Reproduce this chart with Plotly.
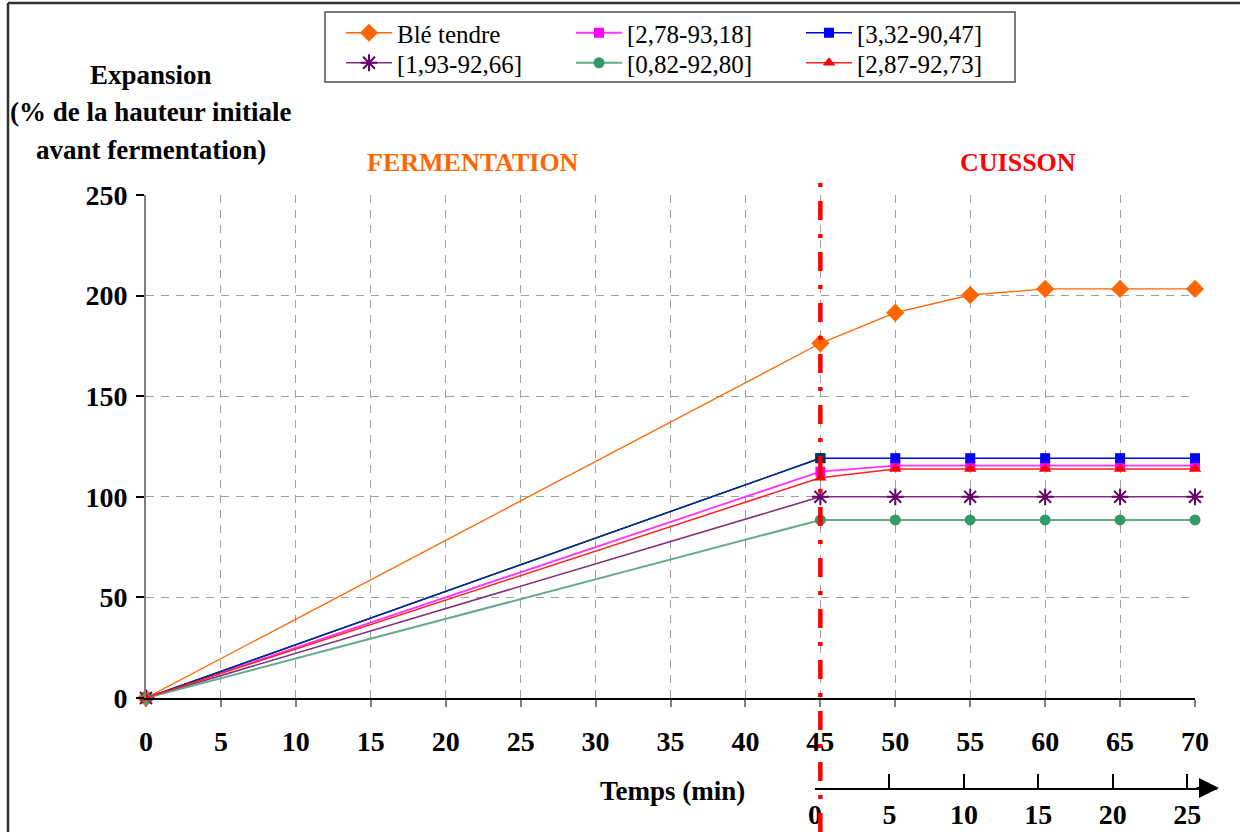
import plotly.graph_objects as go

# ---- data -------------------------------------------------------------
temps = [0, 45, 50, 55, 60, 65, 70]          # minutes since start
ble_tendre = [0, 176.3, 191.5, 200.3, 203.3, 203.3, 203.3]
s_278_9318 = [0, 112.5, 115.5, 115.5, 115.5, 115.5, 115.5]
s_332_9047 = [0, 119.2, 119.2, 119.2, 119.2, 119.2, 119.2]
s_193_9266 = [0, 100.0, 100.0, 100.0, 100.0, 100.0, 100.0]
s_082_9280 = [0, 88.5, 88.5, 88.5, 88.5, 88.5, 88.5]
s_287_9273 = [0, 109.5, 113.8, 113.8, 113.8, 113.8, 113.8]

x_ticks = [0, 5, 10, 15, 20, 25, 30, 35, 40, 45, 50, 55, 60, 65, 70]
y_ticks = [0, 50, 100, 150, 200, 250]
cuisson_ticks = [0, 5, 10, 15, 20, 25]       # baking time scale
fin_fermentation = 45

# ---- page geometry ------------------------------------------------------
W, H = 1240, 832
ML, MR, MT, MB = 146, 15, 195, 44
PW, PH = W - ML - MR, H - MT - MB


def fx(p):
    return (p - ML) / PW


def fy(p):
    return (H - MB - p) / PH


SERIF = "Liberation Serif"

fig = go.Figure()


def add_series(name, y, color, line_color, line_width, symbol, size,
               legend, marker_line=None):
    marker = dict(symbol=symbol, size=size, color=color)
    if marker_line:
        marker["line"] = marker_line
    else:
        marker["line"] = dict(width=0)
    fig.add_trace(go.Scatter(
        x=temps, y=y, name=name, mode="lines+markers",
        line=dict(color=line_color, width=line_width),
        marker=marker, cliponaxis=False, legend=legend,
    ))


add_series("Blé tendre", ble_tendre, "#FF6600", "#FF6600", 1.3, "diamond", 14, "legend")
add_series("[2,78-93,18]", s_278_9318, "#FF00FF", "#FF33FF", 1.8, "square", 10, "legend")
add_series("[3,32-90,47]", s_332_9047, "#0000FF", "#0000DD", 1.5, "square", 10, "legend")

# fermentation segment of the [3,32-90,47] series is drawn in navy
fig.add_trace(go.Scatter(
    x=temps[:2], y=s_332_9047[:2], mode="lines+markers", showlegend=False,
    line=dict(color="#003366", width=1.3),
    marker=dict(symbol="square", size=10, color="#003366", line=dict(width=0)),
    cliponaxis=False, hoverinfo="skip",
))

add_series("[1,93-92,66]", s_193_9266, "#660066", "#7F2F7F", 1.6, "asterisk-open", 14,
           "legend2", marker_line=dict(color="#660066", width=2))
add_series("[0,82-92,80]", s_082_9280, "#339966", "#66AA88", 2, "circle", 11, "legend2")
add_series("[2,87-92,73]", s_287_9273, "#FF0000", "#FF2020", 1.5, "triangle-up", 11, "legend2")

# invisible trace that carries the secondary (baking time) axis
fig.add_trace(go.Scatter(
    x=cuisson_ticks, y=[0] * len(cuisson_ticks), xaxis="x2", yaxis="y2",
    mode="markers", marker=dict(opacity=0), showlegend=False, hoverinfo="skip",
))

tick_font = dict(family=SERIF, size=28, color="black", weight="bold")
legend_font = dict(family=SERIF, size=25, color="black")

fig.update_layout(
    width=W, height=H,
    margin=dict(l=ML, r=MR, t=MT, b=MB, autoexpand=False),
    paper_bgcolor="white", plot_bgcolor="white",
    font=dict(family=SERIF, color="black"),
    showlegend=True,
    xaxis=dict(
        domain=[0, fx(1195)], range=[0, 70], tickvals=x_ticks,
        showgrid=True, gridcolor="#A0A0A0", gridwidth=1.3, griddash="8px,7px",
        showline=True, linecolor="black", linewidth=1.5,
        ticks="outside", ticklen=7, tickcolor="#808080", tickwidth=1.5,
        tickfont=tick_font, zeroline=False, anchor="y", ticklabelstandoff=11,
    ),
    yaxis=dict(
        domain=[fy(698), 1], range=[0, 250], tickvals=y_ticks,
        showgrid=True, gridcolor="#A0A0A0", gridwidth=1.3, griddash="8px,7px",
        showline=True, linecolor="#808080", linewidth=2,
        ticks="outside", ticklen=8, tickcolor="black", tickwidth=1.5,
        tickfont=tick_font, zeroline=False, ticklabelstandoff=3,
    ),
    xaxis2=dict(
        domain=[fx(815), fx(1217)], range=[0, 27], tickvals=cuisson_ticks,
        anchor="y2", showgrid=False, zeroline=False,
        showline=True, linecolor="black", linewidth=2,
        ticks="inside", ticklen=14, tickcolor="black", tickwidth=1.5,
        tickfont=tick_font,
    ),
    yaxis2=dict(domain=[0, 0.02], range=[0, 1], visible=False),
    legend=dict(
        orientation="h", x=fx(341), y=fy(33), xanchor="left", yanchor="middle",
        entrywidth=169, entrywidthmode="pixels", itemwidth=46,
        font=legend_font, bgcolor="rgba(0,0,0,0)", borderwidth=0,
        traceorder="normal",
    ),
    legend2=dict(
        orientation="h", x=fx(341), y=fy(63), xanchor="left", yanchor="middle",
        entrywidth=169, entrywidthmode="pixels", itemwidth=46,
        font=legend_font, bgcolor="rgba(0,0,0,0)", borderwidth=0,
        traceorder="normal",
    ),
)

# legend frame, outer frame lines and the end of fermentation marker
fig.add_shape(type="rect", xref="paper", yref="paper",
              x0=fx(325), x1=fx(1015), y0=fy(82), y1=fy(12),
              line=dict(color="#505050", width=1.5), layer="above")
fig.add_shape(type="line", xref="paper", yref="paper",
              x0=fx(8), x1=fx(1240), y0=fy(3), y1=fy(3),
              line=dict(color="#303030", width=2.5))
fig.add_shape(type="line", xref="paper", yref="paper",
              x0=fx(8), x1=fx(8), y0=fy(3), y1=fy(832),
              line=dict(color="#303030", width=2.5))
fig.add_shape(type="line", xref="x", yref="paper",
              x0=fin_fermentation, x1=fin_fermentation, y0=fy(832), y1=fy(183),
              line=dict(color="#FF0000", width=4.5, dash="19px,14px,4px,14px"),
              layer="above")

# arrow head of the baking time axis
fig.add_annotation(xref="paper", yref="paper", x=fx(1219), y=0, ax=-24, ay=0,
                   text="", showarrow=True, arrowhead=2, arrowsize=2,
                   arrowwidth=2, arrowcolor="black")

title_font = dict(family=SERIF, size=27, color="black", weight="bold")
for text, yp in [("Expansion", 75),
                 ("(% de la hauteur initiale", 112),
                 ("avant fermentation)", 150)]:
    fig.add_annotation(xref="paper", yref="paper", x=fx(151), y=fy(yp),
                       text=text, showarrow=False, font=title_font,
                       xanchor="center", yanchor="middle")

fig.add_annotation(xref="paper", yref="paper", x=fx(473), y=fy(162),
                   text="FERMENTATION", showarrow=False,
                   font=dict(family=SERIF, size=26, color="#FF6600", weight="bold"),
                   xanchor="center", yanchor="middle")
fig.add_annotation(xref="paper", yref="paper", x=fx(1018), y=fy(162),
                   text="CUISSON", showarrow=False,
                   font=dict(family=SERIF, size=26, color="#FF0000", weight="bold"),
                   xanchor="center", yanchor="middle")
fig.add_annotation(xref="paper", yref="paper", x=fx(672), y=fy(791),
                   text="Temps (min)", showarrow=False,
                   font=dict(family=SERIF, size=27, color="black", weight="bold"),
                   xanchor="center", yanchor="middle")

fig.write_html("out.html")
